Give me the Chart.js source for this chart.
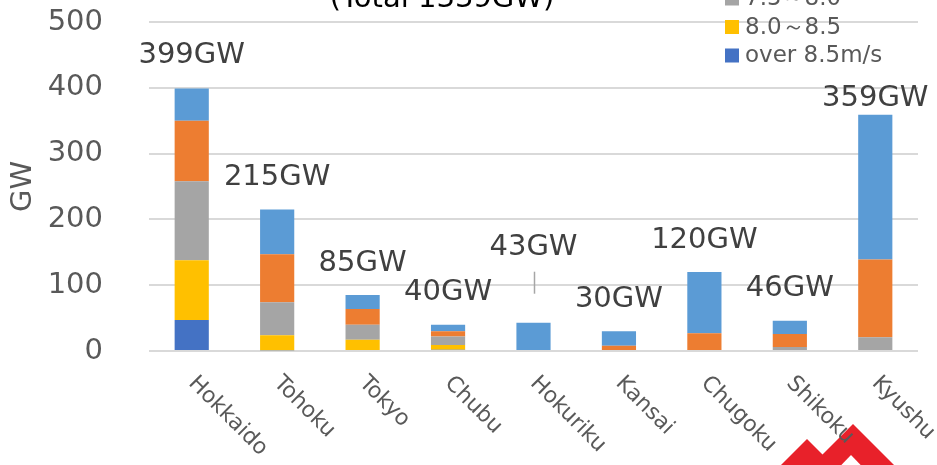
<!DOCTYPE html>
<html>
<head>
<meta charset="utf-8">
<script src="https://cdn.jsdelivr.net/npm/chart.js@4"></script>
<style>
  html, body { margin: 0; padding: 0; background: #fff; }
  #wrap { position: relative; width: 937px; height: 465px; overflow: hidden; }
  #logo { position: absolute; left: 0; top: 0; z-index: 0; }
  #chart { position: absolute; left: 0; top: 0; z-index: 1; }
</style>
</head>
<body>
<div id="wrap">
  <svg id="logo" width="937" height="465">
    <polygon points="762,484 807,439 852,484" fill="#e8212a"/>
    <polygon points="793,484 853,424 913,484" fill="#e8212a"/>
    <polygon points="823,484 851,455 879,484" fill="#fff"/>
  </svg>
  <canvas id="chart" width="937" height="465"></canvas>
</div>
<script>
const regions = ['Hokkaido', 'Tohoku', 'Tokyo', 'Chubu', 'Hokuriku', 'Kansai', 'Chugoku', 'Shikoku', 'Kyushu'];

// wind speed classes, bottom of the stack first
const over85 = [47, 1, 0, 2, 0, 0, 0, 0, 0];
const from80to85 = [91, 23, 17, 7, 0, 0, 0, 0, 0];
const from75to80 = [120, 50, 23, 13, 0, 0, 0, 6, 21];
const from70to75 = [92, 73, 24, 8, 0, 8, 27, 20, 118];
const from65to70 = [49, 68, 21, 10, 43, 22, 93, 20, 220];

const totals = [399, 215, 85, 40, 43, 30, 120, 46, 359];
const yTicks = [0, 100, 200, 300, 400, 500];
const titleText = '(Total 1339GW)';

Chart.defaults.font.family = "'DejaVu Sans', sans-serif";
Chart.defaults.color = '#595959';

const overlay = {
    id: 'overlay',
    afterDraw(chart, args, opts) {
        const {ctx, chartArea} = chart;
        const x = chart.scales.x;
        const y = chart.scales.y;
        ctx.save();

        // title (cut off at the top like in the picture)
        ctx.font = "29px 'DejaVu Sans'";
        ctx.fillStyle = '#000';
        ctx.textAlign = 'center';
        ctx.textBaseline = 'alphabetic';
        ctx.fillText(titleText, 442, 7);

        // totals above the bars
        ctx.fillStyle = '#404040';
        totals.forEach((t, i) => {
            const cx = x.getPixelForValue(i);
            const top = y.getPixelForValue(t);
            const lift = opts.lift[i] !== undefined ? opts.lift[i] : 25;
            ctx.fillText(t + 'GW', cx, top - lift);
        });

        // leader line for Hokuriku
        ctx.strokeStyle = '#a6a6a6';
        ctx.lineWidth = 1.5;
        const li = opts.leader;
        const lx = Math.round(x.getPixelForValue(li)) + 0.5;
        const ltop = y.getPixelForValue(totals[li]);
        ctx.beginPath();
        ctx.moveTo(lx, ltop - 51);
        ctx.lineTo(lx, ltop - 29);
        ctx.stroke();

        // rotated category labels
        ctx.font = "22px 'DejaVu Sans'";
        ctx.fillStyle = '#595959';
        ctx.textAlign = 'left';
        ctx.textBaseline = 'middle';
        regions.forEach((name, i) => {
            ctx.save();
            ctx.translate(x.getPixelForValue(i), chartArea.bottom + 29);
            ctx.rotate(Math.PI / 4);
            ctx.fillText(name, 0, 0);
            ctx.restore();
        });

        // legend, reversed like Excel, partly above the canvas
        ctx.font = "23px 'DejaVu Sans'";
        const sets = chart.data.datasets.slice().reverse();
        sets.forEach((ds, k) => {
            const cy = 55.5 - (sets.length - 1 - k) * 28.5;
            ctx.fillStyle = ds.backgroundColor;
            ctx.fillRect(725, cy - 7, 14, 14);
            ctx.fillStyle = '#595959';
            ctx.fillText(ds.label, 745, cy + 1);
        });

        ctx.restore();
    }
};

new Chart(document.getElementById('chart'), {
    type: 'bar',
    data: {
        labels: regions,
        datasets: [
            {label: 'over 8.5m/s', data: over85, backgroundColor: '#4472C4'},
            {label: '8.0～8.5', data: from80to85, backgroundColor: '#FFC000'},
            {label: '7.5～8.0', data: from75to80, backgroundColor: '#A5A5A5'},
            {label: '7.0～7.5', data: from70to75, backgroundColor: '#ED7D31'},
            {label: '6.5～7.0', data: from65to70, backgroundColor: '#5B9BD5'}
        ]
    },
    options: {
        responsive: false,
        animation: false,
        layout: {
            padding: {top: 22, right: 19, left: 0, bottom: 0}
        },
        datasets: {
            bar: {
                barPercentage: 0.4,
                categoryPercentage: 1,
                borderWidth: 0
            }
        },
        scales: {
            x: {
                stacked: true,
                grid: {display: false},
                border: {display: false},
                ticks: {display: false},
                afterFit(scale) {
                    scale.height = 114;
                    scale.paddingLeft = 0;
                    scale.paddingRight = 0;
                }
            },
            y: {
                stacked: true,
                min: 0,
                max: 500,
                afterBuildTicks(scale) {
                    scale.ticks = yTicks.map(v => ({value: v}));
                },
                grid: {color: '#d9d9d9', lineWidth: 2, drawTicks: false},
                border: {display: false},
                ticks: {
                    padding: 46,
                    color: '#595959',
                    font: {size: 29}
                },
                title: {
                    display: true,
                    text: 'GW',
                    color: '#595959',
                    font: {size: 29},
                    padding: {top: 6, bottom: 0}
                },
                afterFit(scale) {
                    scale.width = 149;
                    scale.paddingTop = 0;
                    scale.paddingBottom = 0;
                }
            }
        },
        plugins: {
            legend: {display: false},
            tooltip: {enabled: false},
            overlay: {
                lift: [25, 25, 24, 25, 68, 24, 24, 25, 9],
                leader: 4
            }
        }
    },
    plugins: [overlay]
});
</script>
</body>
</html>
